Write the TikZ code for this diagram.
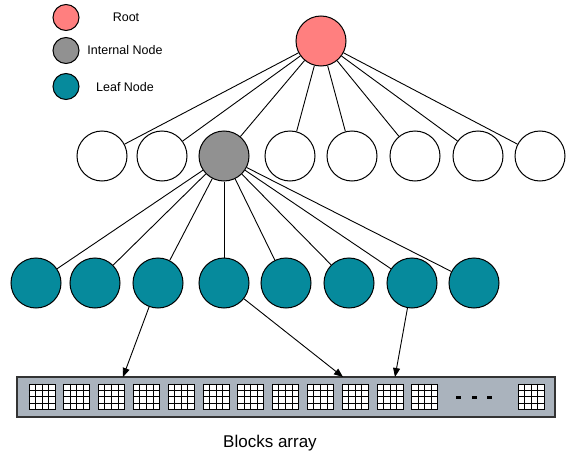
\documentclass[tikz,border=0pt]{standalone}
\usepackage{fontspec}
\setmainfont{Liberation Sans}
\usetikzlibrary{arrows.meta,calc}
\definecolor{rootred}{RGB}{255,127,127}
\definecolor{innergray}{RGB}{145,145,145}
\definecolor{leafteal}{RGB}{6,138,156}
\definecolor{arrayfill}{RGB}{170,179,189}
\tikzset{
  tnode/.style={circle,draw=black,line width=1pt,minimum size=50pt,inner sep=0pt},
  lgnode/.style={circle,draw=black,line width=1pt,minimum size=26pt,inner sep=0pt},
  rootn/.style={fill=rootred},
  innern/.style={fill=innergray},
  leafn/.style={fill=leafteal},
  emptyn/.style={fill=white},
  edge/.style={line width=0.9pt,black},
  ptr/.style={line width=0.9pt,black,-{Triangle[length=9pt,width=7pt]}},
  lgtext/.style={font=\fontsize{12.5}{14}\selectfont,anchor=center},
  arraybox/.style={rectangle,draw=black!80,line width=1.1pt,fill=arrayfill,
    minimum width=538pt,minimum height=40pt,inner sep=0pt},
  blk/.style={rectangle,draw=black,line width=1pt,fill=white,
    minimum width=26pt,minimum height=25pt,inner sep=0pt},
  cellline/.style={line width=1pt,black},
  dotdash/.style={fill=black,draw=none}
}
\begin{document}
\begin{tikzpicture}[x=1pt,y=-1pt]
\useasboundingbox (0,0) rectangle (566,455);

% legend
\node[lgnode,rootn]  (lgroot) at (66,17.5) {};
\node[lgnode,innern] (lginner) at (66,50.5) {};
\node[lgnode,leafn]  (lgleaf) at (66,86.5) {};
\node[lgtext] (lgroott) at (126,17.5) {Root};
\node[lgtext] (lginnert) at (125,50.5) {Internal Node};
\node[lgtext] (lgleaft) at (125,87.5) {Leaf Node};

% tree
\node[tnode,rootn] (root) at (321,41) {};
\foreach \i/\x in {1/102,2/162,4/290,5/352,6/415,7/478,8/540}
  \node[tnode,emptyn] (w\i) at (\x,156) {};
\node[tnode,innern] (w3) at (224,156) {};
\foreach \i/\x in {1/36,2/95,3/158,4/224,5/286,6/349,7/412,8/474}
  \node[tnode,leafn] (l\i) at (\x,283) {};

\foreach \i in {1,...,8}
  \draw[edge] (root) -- (w\i);
\foreach \i in {1,...,8}
  \draw[edge] (w3) -- (l\i);

% blocks array
\node[arraybox] (arr) at (286,397) {};
\foreach \k in {0,...,11} {
  \pgfmathsetmacro{\cx}{42+34.8*\k}
  \node[blk] (b\k) at (\cx,396.5) {};
}
\node[blk] (blast) at (531,396.5) {};
\foreach \b in {b0,b1,b2,b3,b4,b5,b6,b7,b8,b9,b10,b11,blast} {
  \foreach \f in {0.25,0.5,0.75} {
    \draw[cellline] ($(\b.north west)!\f!(\b.north east)$) -- ($(\b.south west)!\f!(\b.south east)$);
    \draw[cellline] ($(\b.north west)!\f!(\b.south west)$) -- ($(\b.north east)!\f!(\b.south east)$);
  }
}
\foreach \x in {458.5,474,489}
  \fill[dotdash] (\x-2.5,395.5) rectangle (\x+2.5,398.5);

% pointers from leaves into the array
\coordinate (p3) at (123,377);
\coordinate (p4) at (343,377);
\coordinate (p7) at (395,377);
\draw[ptr] (l3) -- (p3);
\draw[ptr] (l4) -- (p4);
\draw[ptr] (l7) -- (p7);

\node[font=\fontsize{17}{20}\selectfont] (caption) at (270,443) {Blocks array};
\end{tikzpicture}
\end{document}
